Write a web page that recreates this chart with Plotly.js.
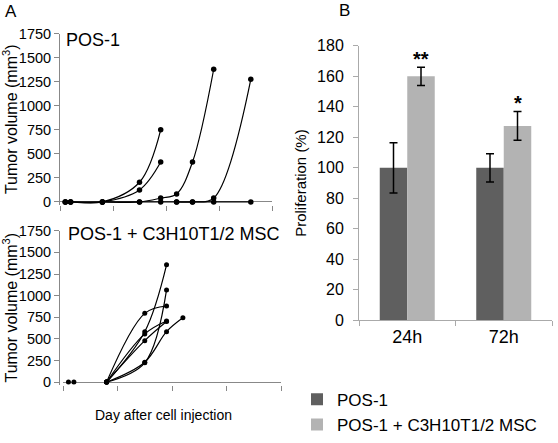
<!DOCTYPE html>
<html><head><meta charset="utf-8">
<script src="https://cdn.plot.ly/plotly-3.0.1.min.js"></script>
<style>html,body{margin:0;padding:0;background:#fff}#chart{width:558px;height:443px}</style>
</head><body><div id="chart"></div><script>
// ---- Panel A (top): POS-1 tumour growth, days after injection ----
const topDaysFlat = [1, 2, 8, 15, 19, 22, 25, 29, 36];
const topVolFlat  = [0, 0, 0, 0, 0, 0, 0, 0, 0];
const topDays1 = [1, 2, 8, 15, 19];
const topVol1  = [0, 0, 0, 205, 750];
const topDays2 = [1, 2, 8, 15, 19];
const topVol2  = [0, 0, 0, 125, 415];
const topDays3 = [8, 15, 19, 22, 25, 29];
const topVol3  = [0, 0, 40, 83, 415, 1380];
const topDays4 = [22, 25, 29, 36];
const topVol4  = [0, 0, 40, 1275];

// ---- Panel A (bottom): POS-1 + C3H10T1/2 MSC ----
const botDaysEarly = [1, 2];
const botVolEarly  = [0, 0];
const botDays = [8, 15, 19];
const botVol1 = [0, 795, 880];
const botVol2 = [0, 583, 1356];
const botVol3 = [0, 557, 706];
const botVol4 = [0, 479, 700];
const botVol5 = [0, 223, 1066];
const botDays6 = [8, 15, 19, 22];
const botVol6 = [0, 230, 583, 743];

// ---- Panel B: proliferation ----
const timeCats = ['24h', '72h'];
const prolPOS = [100, 100];
const prolPOSErr = [16.5, 9.3];
const prolMSC = [160, 127.5];
const prolMSCErr = [6, 9.5];
const sigLabels = ['**', '*'];
const volTicks = [0, 250, 500, 750, 1000, 1250, 1500, 1750];

const FONT = 'Arial, "Liberation Sans", sans-serif';
const W = 558, H = 443;
const px = v => v / W;
const py = v => 1 - v / H;

function growth(x, y, xa, ya, msize) {
  return {x: x, y: y, xaxis: xa, yaxis: ya, type: 'scatter', mode: 'lines+markers',
    line: {color: '#000', width: 1.2, shape: 'spline', smoothing: 1},
    marker: {color: '#000', size: msize}, showlegend: false, cliponaxis: false, hoverinfo: 'x+y'};
}

const traces = [
  growth(topDaysFlat, topVolFlat, 'x', 'y', 5.5),
  growth(topDays1, topVol1, 'x', 'y', 5.5),
  growth(topDays2, topVol2, 'x', 'y', 5.5),
  growth(topDays3, topVol3, 'x', 'y', 5.5),
  growth(topDays4, topVol4, 'x', 'y', 5.5),
  Object.assign(growth(botDaysEarly, botVolEarly, 'x2', 'y2', 5), {mode: 'markers'}),
  growth(botDays, botVol1, 'x2', 'y2', 5),
  growth(botDays, botVol2, 'x2', 'y2', 5),
  growth(botDays, botVol3, 'x2', 'y2', 5),
  growth(botDays, botVol4, 'x2', 'y2', 5),
  growth(botDays, botVol5, 'x2', 'y2', 5),
  growth(botDays6, botVol6, 'x2', 'y2', 5),
  {type: 'bar', name: 'POS-1', x: timeCats, y: prolPOS, xaxis: 'x3', yaxis: 'y3',
   marker: {color: '#5f5f5f'},
   error_y: {type: 'data', array: prolPOSErr, color: '#000', thickness: 1.5, width: 4}},
  {type: 'bar', name: 'POS-1 + C3H10T1/2 MSC', x: timeCats, y: prolMSC, xaxis: 'x3', yaxis: 'y3',
   marker: {color: '#b3b3b3'},
   error_y: {type: 'data', array: prolMSCErr, color: '#000', thickness: 1.5, width: 4}}
];

const bargap = 0.43;
const barOff = (1 - bargap) / 4;

const volAxis = (dom, title) => ({
  domain: dom, range: [-30, 1750], tickvals: volTicks, ticks: 'outside', ticklen: 5,
  tickcolor: '#888', showline: true, linecolor: '#888', linewidth: 1,
  zeroline: true, zerolinecolor: '#888', zerolinewidth: 1, showgrid: false,
  tickfont: {size: 14.5, color: '#000', family: FONT}, automargin: false,
  title: {text: title, font: {size: 16, color: '#000', family: FONT}, standoff: 5}
});
const dayAxis = (dom, anchor) => ({
  domain: dom, range: [0, 40], tick0: 0, dtick: 10, ticks: 'outside', ticklen: 5,
  tickcolor: '#888', showticklabels: false, showline: false, zeroline: false,
  showgrid: false, anchor: anchor, automargin: false
});

const annotations = [
  {text: 'A', xref: 'paper', yref: 'paper', x: px(3), y: py(12), xanchor: 'left', yanchor: 'middle',
   showarrow: false, font: {size: 17, color: '#000'}},
  {text: 'B', xref: 'paper', yref: 'paper', x: px(337), y: py(11), xanchor: 'left', yanchor: 'middle',
   showarrow: false, font: {size: 17, color: '#000'}},
  {text: 'POS-1', xref: 'paper', yref: 'paper', x: px(64), y: py(42), xanchor: 'left', yanchor: 'middle',
   showarrow: false, font: {size: 18, color: '#000'}},
  {text: 'POS-1 + C3H10T1/2 MSC', xref: 'paper', yref: 'paper', x: px(66), y: py(243), xanchor: 'left', yanchor: 'middle',
   showarrow: false, font: {size: 18, color: '#000'}},
  {text: 'Day after cell injection', xref: 'paper', yref: 'paper', x: px(163), y: py(432), xanchor: 'center', yanchor: 'middle',
   showarrow: false, font: {size: 14, color: '#000'}}
];
sigLabels.forEach((s, i) => annotations.push({
  text: '<b>' + s + '</b>', xref: 'x3', yref: 'y3', x: i + barOff, y: prolMSC[i] + prolMSCErr[i],
  xanchor: 'center', yanchor: 'bottom', yshift: -5, showarrow: false, font: {size: 20, color: '#000'}
}));

const layout = {
  width: W, height: H, margin: {l: 0, r: 0, t: 0, b: 0},
  paper_bgcolor: '#fff', plot_bgcolor: 'rgba(0,0,0,0)',
  font: {family: FONT, color: '#000'},
  xaxis: dayAxis([px(60), px(272)], 'y'),
  yaxis: volAxis([py(213), py(35)], 'Tumor volume (mm<sup>3</sup>)'),
  xaxis2: dayAxis([px(63), px(281)], 'y2'),
  yaxis2: volAxis([py(400), py(240)], 'Tumor volume (mm<sup>3</sup>)'),
  xaxis3: {domain: [px(359), px(552)], anchor: 'y3', type: 'category', ticks: 'outside', tickson: 'boundaries',
    ticklen: 5, tickcolor: '#aaa', showline: true, linecolor: '#aaa', showgrid: false, automargin: false,
    tickfont: {size: 18, color: '#000'}},
  yaxis3: {domain: [py(333), py(47.7)], anchor: 'x3', range: [0, 180], dtick: 20, ticks: 'outside', ticklen: 5,
    ticklabelstandoff: 6,
    tickcolor: '#aaa', showline: true, linecolor: '#aaa', showgrid: false, zeroline: false, automargin: false,
    tickfont: {size: 16, color: '#000'},
    title: {text: 'Proliferation (%)', font: {size: 15, color: '#000'}, standoff: 6}},
  barmode: 'group', bargap: bargap, bargroupgap: 0,
  showlegend: true,
  legend: {x: px(297), y: py(397), xanchor: 'left', yanchor: 'top', font: {size: 17, color: '#000'},
    bgcolor: 'rgba(0,0,0,0)', traceorder: 'normal', tracegroupgap: 0},
  annotations: annotations
};

Plotly.newPlot('chart', traces, layout, {staticPlot: true, displayModeBar: false});
</script></body></html>
